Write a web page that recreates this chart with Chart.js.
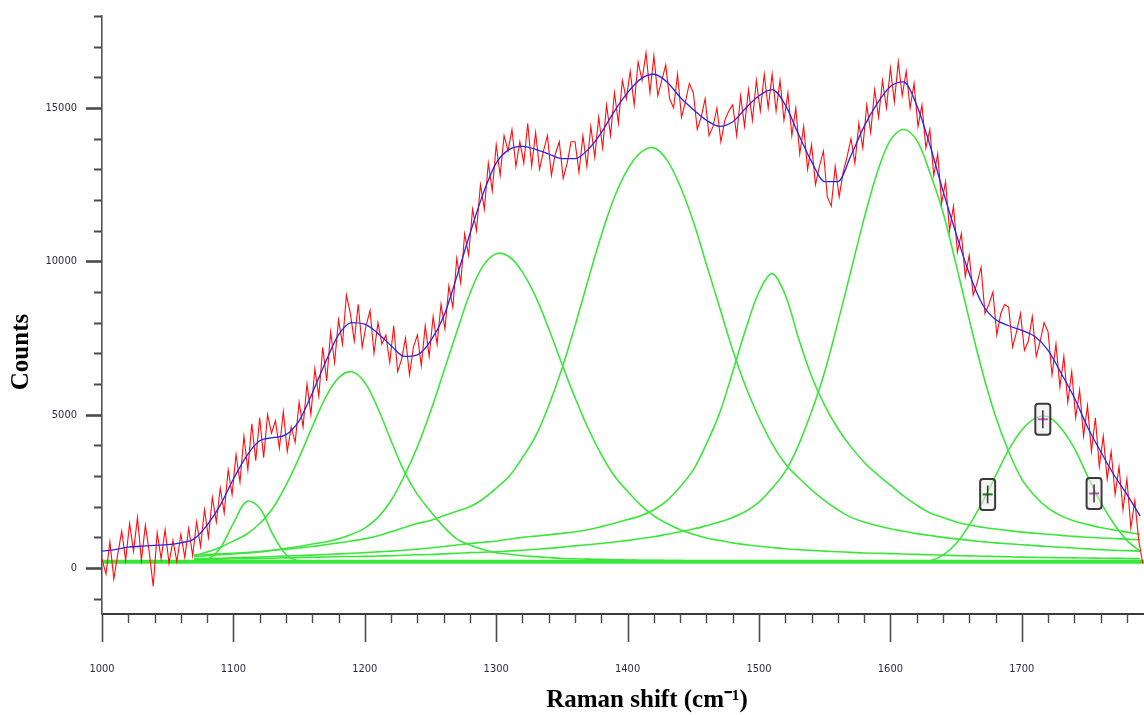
<!DOCTYPE html>
<html>
<head>
<meta charset="utf-8">
<script src="https://cdn.jsdelivr.net/npm/chart.js@4.4.1/dist/chart.umd.min.js"></script>
<style>
html,body{margin:0;padding:0;background:#fff;overflow:hidden}
#wrap{width:1144px;height:715px;position:relative}
</style>
</head>
<body>
<div id="wrap"><canvas id="c"></canvas></div>
<script>
// ---- Raw spectrum (red), Raman shift in cm-1 ----
const rawShift = [
1000,1003,1006,1009,1012,1015,1018,1021,1024,1027,
1030,1033,1036,1039,1042,1045,1048,1051,1054,1057,
1060,1063,1066,1069,1072,1075,1078,1081,1084,1087,
1090,1093,1096,1099,1102,1105,1108,1111,1114,1117,
1120,1123,1126,1129,1132,1135,1138,1141,1144,1147,
1150,1153,1156,1159,1162,1165,1168,1171,1174,1177,
1180,1183,1186,1189,1192,1195,1198,1201,1204,1207,
1210,1213,1216,1219,1222,1225,1228,1231,1234,1237,
1240,1243,1246,1249,1252,1255,1258,1261,1264,1267,
1270,1273,1276,1279,1282,1285,1288,1291,1294,1297,
1300,1303,1306,1309,1312,1315,1318,1321,1324,1327,
1330,1333,1336,1339,1342,1345,1348,1351,1354,1357,
1360,1363,1366,1369,1372,1375,1378,1381,1384,1387,
1390,1393,1396,1399,1402,1405,1408,1411,1414,1417,
1420,1423,1426,1429,1432,1435,1438,1441,1444,1447,
1450,1453,1456,1459,1462,1465,1468,1471,1474,1477,
1480,1483,1486,1489,1492,1495,1498,1501,1504,1507,
1510,1513,1516,1519,1522,1525,1528,1531,1534,1537,
1540,1543,1546,1549,1552,1555,1558,1561,1564,1567,
1570,1573,1576,1579,1582,1585,1588,1591,1594,1597,
1600,1603,1606,1609,1612,1615,1618,1621,1624,1627,
1630,1633,1636,1639,1642,1645,1648,1651,1654,1657,
1660,1663,1666,1669,1672,1675,1678,1681,1684,1687,
1690,1693,1696,1699,1702,1705,1708,1711,1714,1717,
1720,1723,1726,1729,1732,1735,1738,1741,1744,1747,
1750,1753,1756,1759,1762,1765,1768,1771,1774,1777,
1780,1783,1786,1789,1792];
const rawCounts = [
300,-200,850,-350,450,1200,250,1450,550,1650,
250,1400,500,-600,1150,300,1250,150,900,200,
1100,350,1300,400,1500,700,1900,1000,2300,1500,
2600,1800,3200,2400,3700,2800,4300,3200,4700,3500,
4900,3600,5000,4400,4800,3900,5100,3800,4600,4100,
5400,4600,6000,5000,6500,5600,7200,6100,7700,6700,
8100,7300,8900,8300,7400,8600,7200,7900,8400,7000,
8000,7300,7600,6700,7900,6400,6800,7500,6300,7200,
7600,6600,7900,6900,8200,7300,8600,7800,9200,8500,
10100,9300,10900,10200,11700,11000,12500,11700,13200,12300,
13800,12800,14100,13600,14300,13100,13900,13200,14500,13100,
14200,13000,13600,14100,12800,13500,13900,12700,13200,13900,
13900,12900,14100,13100,14400,13400,14700,13700,15100,14100,
15500,14500,15900,15300,16200,15100,16500,15900,16800,15500,
16700,15400,15900,16400,15300,15000,16100,14700,15200,15800,
15500,14300,14700,15300,14100,14400,15000,13900,14600,14900,
15100,14100,15400,14400,15600,14600,15900,14900,16100,15000,
16100,14900,15900,14600,15500,14100,15000,13500,14400,13000,
13800,12500,13100,13600,12100,11800,13100,12100,12900,13400,
14000,13200,14500,13700,15100,14200,15600,14700,15900,15000,
16300,15200,16500,15400,16200,15000,15800,14400,15100,13700,
14300,12800,13500,11900,12600,11000,11800,10300,10900,9500,
10200,8900,9300,9800,8300,8600,9000,7600,8300,8600,
8500,7200,7700,8300,7100,7400,8200,6900,7400,8000,
7700,6300,7300,5900,6900,5400,6400,4900,5800,4300,
5300,3800,4900,3300,4300,2900,3800,2400,3300,1900,
2900,1300,2200,900,150];

// ---- Fitted envelope (blue) ----
const fitShift = [
1000,1010,1020,1030,1040,1050,1060,1070,1080,1090,
1100,1110,1120,1130,1140,1150,1160,1170,1180,1190,
1200,1210,1220,1230,1240,1250,1260,1270,1280,1290,
1300,1310,1320,1330,1340,1350,1360,1370,1380,1390,
1400,1410,1420,1430,1440,1450,1460,1470,1480,1490,
1500,1510,1520,1530,1540,1550,1560,1570,1580,1590,
1600,1610,1620,1630,1640,1650,1660,1670,1680,1690,
1700,1710,1720,1730,1740,1750,1760,1770,1780,1790];
const fitCounts = [
550,600,680,710,740,760,820,950,1400,2050,
2900,3650,4150,4250,4350,4800,5700,6700,7600,8000,
7950,7650,7250,6900,6950,7400,8200,9500,10900,12200,
13200,13650,13750,13650,13500,13350,13350,13650,14200,14900,
15500,15950,16100,15850,15350,14950,14600,14400,14550,15000,
15400,15600,15100,14150,13250,12600,12600,13450,14400,15150,
15700,15850,15100,13800,12300,10900,9600,8600,8100,7900,
7750,7550,7100,6350,5550,4600,3800,3050,2400,1700];

// ---- Fitted component peaks (green) ----
const peakShift = [
1070,1080,1090,1100,1110,1120,1130,1140,1150,1160,
1170,1180,1190,1200,1210,1220,1230,1240,1250,1260,
1270,1280,1290,1300,1310,1320,1330,1340,1350,1360,
1370,1380,1390,1400,1410,1420,1430,1440,1450,1460,
1470,1480,1490,1500,1510,1520,1530,1540,1550,1560,
1570,1580,1590,1600,1610,1620,1630,1640,1650,1660,
1670,1680,1690,1700,1710,1720,1730,1740,1750,1760,
1770,1780,1790];
const peak1113 = [200,270,650,1460,2170,1960,1100,440,230,200,200,200,200,200];
const peak1187 = [
400,520,680,880,1100,1450,1950,2700,3600,4600,
5550,6200,6400,6050,5200,4150,3150,2400,1850,1350,
950,750,600,500,450,400,370,340,310,300,
290,280,270,260,255,250,245,240,235,230,
225,220,215,210,205,200,200,200,200,200];
const peak1305 = [
370,400,430,460,490,520,580,640,700,780,
850,950,1100,1300,1650,2200,3000,3950,5100,6400,
7700,8950,9850,10250,10150,9650,8850,7800,6650,5550,
4550,3700,3000,2500,2050,1700,1450,1250,1100,980,
900,820,760,710,670,630,600,575,550,530,
510,490,480,470,455,445,430,420,405,395,
385,375,365,355,345,340,335,330,325,320,
315,310,300];
const peak1417 = [
420,440,460,480,500,540,580,610,650,700,
760,820,880,950,1050,1180,1320,1450,1550,1700,
1850,2000,2250,2600,3000,3600,4300,5300,6500,7900,
9400,10850,12100,13000,13550,13700,13300,12450,11300,9900,
8500,7100,5900,4900,4050,3400,2950,2550,2200,1900,
1650,1500,1380,1280,1200,1120,1060,1000,950,900,
860,820,790,760,730,700,675,650,625,600,
580,565,550];
const peak1510 = [
300,310,320,330,345,360,375,390,405,420,
440,460,480,500,525,550,580,615,650,700,
750,800,840,880,940,1000,1040,1080,1130,1180,
1250,1350,1460,1580,1700,1900,2200,2650,3200,4050,
5050,6400,7800,9000,9600,8900,7500,6250,5300,4550,
3950,3450,3050,2700,2350,2050,1800,1650,1500,1400,
1330,1270,1220,1170,1135,1100,1065,1030,1005,980,
960,940,920];
const peak1608 = [
270,280,290,300,305,310,320,330,340,350,
360,370,375,380,390,400,415,430,440,460,
480,500,515,530,555,580,610,640,680,720,
760,800,850,900,960,1020,1100,1180,1270,1380,
1500,1650,1850,2150,2600,3150,4000,5100,6400,8000,
9700,11400,12900,13950,14300,13950,12900,11600,9900,8100,
6400,4950,3800,2900,2350,1950,1700,1530,1420,1320,
1240,1170,1100];
const peak1716Shift = [1620,1630,1640,1650,1660,1670,1680,1690,1700,1710,1720,1730,1740,1750,1760,1770,1780,1790];
const peak1716 = [200,230,420,800,1400,2150,3000,3850,4500,4880,4930,4550,3900,3000,2150,1450,900,550];
const baseShift = [1000,1793];
const baseCounts = [200,200];

// ---- Marker boxes on the 1716 peak ----
const markerShift = [1674,1716,1755];
const markerCounts = [2400,4850,2430];
const markerBarColor = ['#1f7a1f','#e040e0','#c050c0'];

// ---- Axis ticks ----
const xTickValues = [1000,1020,1040,1060,1080,1100,1120,1140,1160,1180,1200,1220,1240,1260,1280,
  1300,1320,1340,1360,1380,1400,1420,1440,1460,1480,1500,1520,1540,1560,1580,
  1600,1620,1640,1660,1680,1700,1720,1740,1760,1780];
const xTickLabels = [1000,1100,1200,1300,1400,1500,1600,1700];
const yTickValues = [-1000,0,1000,2000,3000,4000,5000,6000,7000,8000,9000,10000,
  11000,12000,13000,14000,15000,16000,17000,18000];
const yTickLabels = [0,5000,10000,15000];
const xMin = 1000, xMax = 1793, yMin = -1500, yMax = 18000;
const xTitle = 'Raman shift (cm\u207B\u00B9)';
const yTitle = 'Counts';

function pts(xs, ys){ return ys.map((y,i)=>({x:xs[i], y:y})); }

const GREEN = '#3be63b';
function greenSet(xs, ys, w){
  return {data:pts(xs,ys), borderColor:GREEN, borderWidth:w||1.6, pointRadius:0,
          tension:0.35, order:3};
}

const tickFont = {family:"'Liberation Sans Narrow','DejaVu Sans Condensed','Liberation Sans',sans-serif", size:11};

const tickMarks = {
  id:'tickMarks',
  afterDraw(chart){
    const ctx = chart.ctx, xs = chart.scales.x, ys = chart.scales.y, a = chart.chartArea;
    ctx.save();
    ctx.strokeStyle = '#4a4a4a';
    xs.ticks.forEach(t=>{
      const v = t.value;
      const major = xTickLabels.includes(v);
      const p = Math.round(xs.getPixelForValue(v)) + 0.5;
      ctx.lineWidth = major ? 1.6 : 1.4;
      ctx.beginPath(); ctx.moveTo(p, a.bottom); ctx.lineTo(p, a.bottom + (major ? 28 : 9)); ctx.stroke();
    });
    ys.ticks.forEach(t=>{
      const v = t.value;
      const major = yTickLabels.includes(v);
      const p = Math.round(ys.getPixelForValue(v)) + 0.5;
      ctx.lineWidth = major ? 2.6 : 2;
      ctx.beginPath(); ctx.moveTo(a.left, p); ctx.lineTo(a.left - (major ? 16 : 8), p); ctx.stroke();
    });
    ctx.fillStyle = '#000';
    ctx.font = "bold 25px 'Liberation Serif','Times New Roman',serif";
    ctx.textAlign = 'center'; ctx.textBaseline = 'middle';
    ctx.fillText(xTitle, 647, 701);
    ctx.translate(22, 352); ctx.rotate(-Math.PI/2);
    ctx.fillText(yTitle, 0, 0);
    ctx.restore();
  }
};

const markerBoxes = {
  id:'markerBoxes',
  afterDatasetsDraw(chart){
    const ctx = chart.ctx, xs = chart.scales.x, ys = chart.scales.y;
    ctx.save();
    markerShift.forEach((mx,i)=>{
      const px = xs.getPixelForValue(mx), py = ys.getPixelForValue(markerCounts[i]);
      const w = 15, h = 31, r = 3;
      ctx.beginPath();
      ctx.roundRect(px - w/2, py - h/2, w, h, r);
      ctx.fillStyle = 'rgba(235,235,235,0.55)'; ctx.fill();
      ctx.lineWidth = 2; ctx.strokeStyle = '#3a3a3a'; ctx.stroke();
      ctx.lineWidth = 2; ctx.strokeStyle = markerBarColor[i];
      ctx.beginPath(); ctx.moveTo(px - 5, py); ctx.lineTo(px + 5, py); ctx.stroke();
      ctx.lineWidth = 1.5; ctx.strokeStyle = '#333';
      ctx.beginPath(); ctx.moveTo(px, py - 9); ctx.lineTo(px, py + 9); ctx.stroke();
    });
    ctx.restore();
  }
};

new Chart(document.getElementById('c'), {
  type:'line',
  data:{datasets:[
    {data:pts(fitShift, fitCounts), borderColor:'#2525f0', borderWidth:1.3, pointRadius:0, tension:0.4, cubicInterpolationMode:'monotone', order:1},
    {data:pts(rawShift, rawCounts), borderColor:'#ff0d0d', borderWidth:1.1, pointRadius:0, tension:0, order:2},
    greenSet(baseShift, baseCounts, 4),
    greenSet(peakShift, peak1113),
    greenSet(peakShift, peak1187),
    greenSet(peakShift, peak1305),
    greenSet(peakShift, peak1417),
    greenSet(peakShift, peak1510),
    greenSet(peakShift, peak1608),
    greenSet(peak1716Shift, peak1716)
  ]},
  options:{
    responsive:true, maintainAspectRatio:false, animation:false,
    layout:{padding:{top:16, right:0, bottom:0, left:0}},
    plugins:{legend:{display:false}, tooltip:{enabled:false}},
    events:[],
    scales:{
      x:{type:'linear', min:xMin, max:xMax,
         grid:{display:false, drawTicks:false},
         border:{display:true, color:'#3a3a3a', width:2},
         afterBuildTicks(s){ s.ticks = xTickValues.map(v=>({value:v})); },
         ticks:{autoSkip:false, maxRotation:0, minRotation:0, padding:49,
                color:'#2c2c44', font:tickFont,
                callback:v=> (xTickLabels.includes(v) ? String(v) : '')},
         afterFit(s){ s.height = 101; s.paddingLeft = 0; s.paddingRight = 0; }},
      y:{type:'linear', min:yMin, max:yMax,
         grid:{display:false, drawTicks:false},
         border:{display:true, color:'#555', width:1.6},
         afterBuildTicks(s){ s.ticks = yTickValues.map(v=>({value:v})); },
         ticks:{autoSkip:false, padding:25,
                color:'#2c2c44', font:tickFont,
                callback:v=> (yTickLabels.includes(v) ? String(v) : '')},
         afterFit(s){ s.width = 102; s.paddingTop = 0; s.paddingBottom = 0; }}
    }
  },
  plugins:[markerBoxes, tickMarks]
});
</script>
</body>
</html>
